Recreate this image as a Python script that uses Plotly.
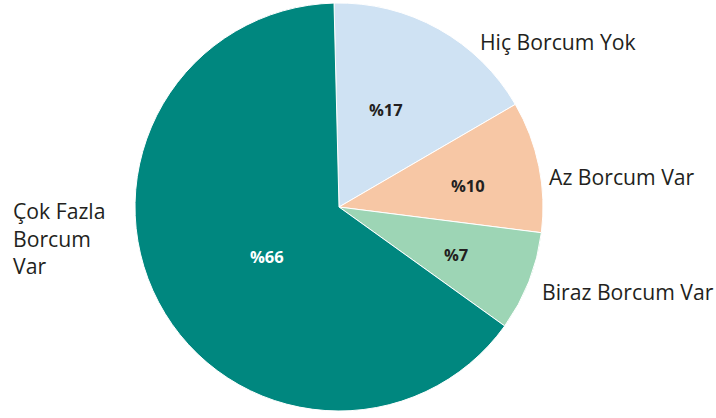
import math
import plotly.graph_objects as go

labels = ["Hiç Borcum Yok", "Az Borcum Var", "Biraz Borcum Var", "Çok Fazla Borcum Var"]
values = [17.0, 10.4, 7.9, 64.7]          # slice sizes
pct_text = ["%17", "%10", "%7", "%66"]    # printed labels
colors = ["#cfe2f3", "#f7c7a5", "#9dd5b5", "#00877f"]
text_colors = ["#231f20", "#231f20", "#231f20", "#ffffff"]
outside_labels = ["Hiç Borcum Yok", "Az Borcum Var", "Biraz Borcum Var", "Çok Fazla<br>Borcum<br>Var"]

W, H = 716, 418
cx, cy, r = 339, 207, 204
start_angle = -1.4
# radial position (fraction of radius) and angle nudge (deg) for inside labels
inside_rfrac = [0.53, 0.64, 0.62, 0.43]
inside_dang = [-3.4, 1.8, 0.6, -6.4]

fig = go.Figure(go.Pie(
    labels=labels,
    values=values,
    textinfo="none",
    sort=False,
    direction="clockwise",
    rotation=start_angle,
    marker=dict(colors=colors, line=dict(color="#ffffff", width=1)),
    hoverinfo="label",
    domain=dict(x=[(cx - r) / W, (cx + r) / W], y=[(H - cy - r) / H, (H - cy + r) / H]),
    showlegend=False,
))

total = sum(values)
cum = 0
for v, t, tc, rf, da in zip(values, pct_text, text_colors, inside_rfrac, inside_dang):
    mid = start_angle + (cum + v / 2) / total * 360 + da
    cum += v
    a = math.radians(mid)
    px = cx + rf * r * math.sin(a)
    py = cy - rf * r * math.cos(a)
    fig.add_annotation(
        x=px / W, y=1 - py / H, xref="paper", yref="paper",
        text="<b>" + t + "</b>", showarrow=False, xanchor="center", yanchor="middle",
        font=dict(family="Open Sans", size=16.5, color=tc),
    )

label_pos = [(478, 42), (547, 176), (540, 291), (11, 238)]
for txt, (x, y) in zip(outside_labels, label_pos):
    fig.add_annotation(
        x=x / W, y=1 - y / H, xref="paper", yref="paper",
        text=txt, showarrow=False, xanchor="left", yanchor="middle", align="left",
        font=dict(family="Open Sans", size=21.2, color="#231f20"),
    )

fig.update_layout(
    width=W, height=H,
    margin=dict(l=0, r=0, t=0, b=0),
    paper_bgcolor="#ffffff",
    plot_bgcolor="#ffffff",
)

fig.write_html("out.html", config={"displayModeBar": False},
               post_script="document.body.style.margin='0';")
